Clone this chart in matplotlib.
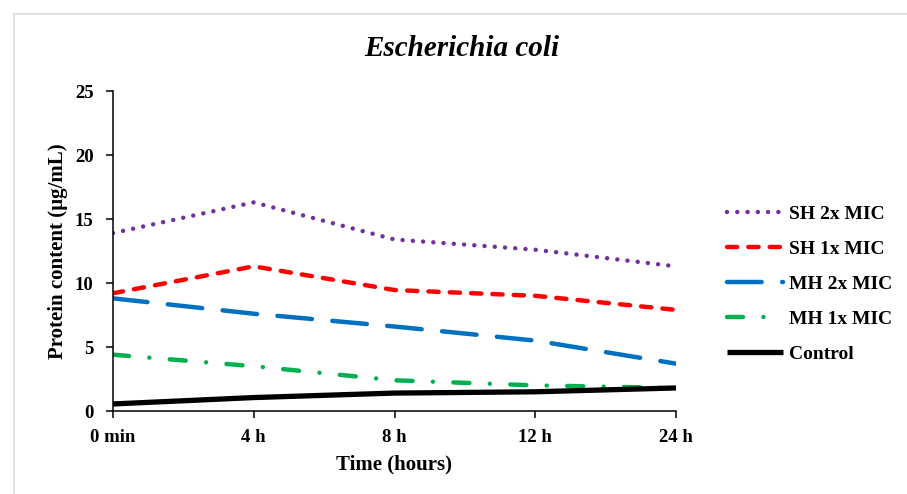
import matplotlib.pyplot as plt
from matplotlib.patches import Rectangle

# sampling times (categorical, equally spaced on the chart)
times = ['0 min', '4 h', '8 h', '12 h', '24 h']

# protein content (ug/mL)
sh_2x = [13.9, 16.3, 13.4, 12.6, 11.3]
sh_1x = [9.2, 11.3, 9.45, 9.0, 7.9]
mh_2x = [8.8, 7.6, 6.6, 5.5, 3.7]
mh_1x = [4.4, 3.5, 2.4, 2.0, 1.8]
control = [0.55, 1.05, 1.4, 1.5, 1.8]

plt.rcParams.update({
    'font.family': 'serif',
    'font.serif': ['Liberation Serif', 'DejaVu Serif'],
    'font.weight': 'bold',
    'font.size': 13.5,
})

fig = plt.figure(figsize=(9.07, 4.94), dpi=100)
ax = fig.add_axes([113/907, 1 - 411/494, (676 - 113)/907, (411 - 91)/494])

# light grey frame round the figure (only top and left edges visible)
fig.patches.append(Rectangle((14/907, -0.1), 1.2, 1 - 14/494 + 0.1,
                             transform=fig.transFigure, fill=False,
                             edgecolor='#dcdcdc', lw=1.2, zorder=0))

x = list(range(len(times)))
lw = 3.2
series = [
    (sh_2x, '#7030A0', (0, (0.01, 2.3)), 'SH 2x MIC'),
    (sh_1x, '#FF0000', (0, (2.3, 2.5)), 'SH 1x MIC'),
    (mh_2x, '#0070C0', (0, (7.8, 4.6)), 'MH 2x MIC'),
    (mh_1x, '#00B050', (0, (3.6, 4.6, 0.01, 4.6)), 'MH 1x MIC'),
]
for vals, col, ls, lab in series:
    ax.plot(x, vals, color=col, lw=lw, linestyle=ls,
            dash_capstyle='round', label=lab)
ax.plot(x, control, color='black', lw=3.8, label='Control',
        solid_capstyle='butt')

ax.set_xlim(0, len(times) - 1)
ax.set_ylim(0, 25)
ax.set_xticks(x)
ax.set_xticklabels(times)
ax.set_yticks([0, 5, 10, 15, 20, 25])

for s in ['top', 'right']:
    ax.spines[s].set_visible(False)
for s in ['left', 'bottom']:
    ax.spines[s].set_linewidth(1.1)
ax.tick_params(direction='out', length=5, width=1.1, labelsize=13.5)
ax.tick_params(axis='y', pad=9)
ax.tick_params(axis='x', pad=8)

ax.set_ylabel('Protein content (µg/mL)', fontsize=15, fontweight='bold', labelpad=5)
ax.set_xlabel('Time (hours)', fontsize=15, fontweight='bold', labelpad=6)

fig.text(462/907, 1 - 48/494, 'Escherichia coli', ha='center', va='center',
         fontsize=21, fontstyle='italic', fontweight='bold')

fig.legend(loc='upper left', bbox_to_anchor=(727/907, 1 - 205/494),
           frameon=False, borderpad=0, borderaxespad=0, handlelength=2.9,
           handletextpad=0.3, labelspacing=0.9, fontsize=14)

plt.savefig('out.png', dpi=100)
